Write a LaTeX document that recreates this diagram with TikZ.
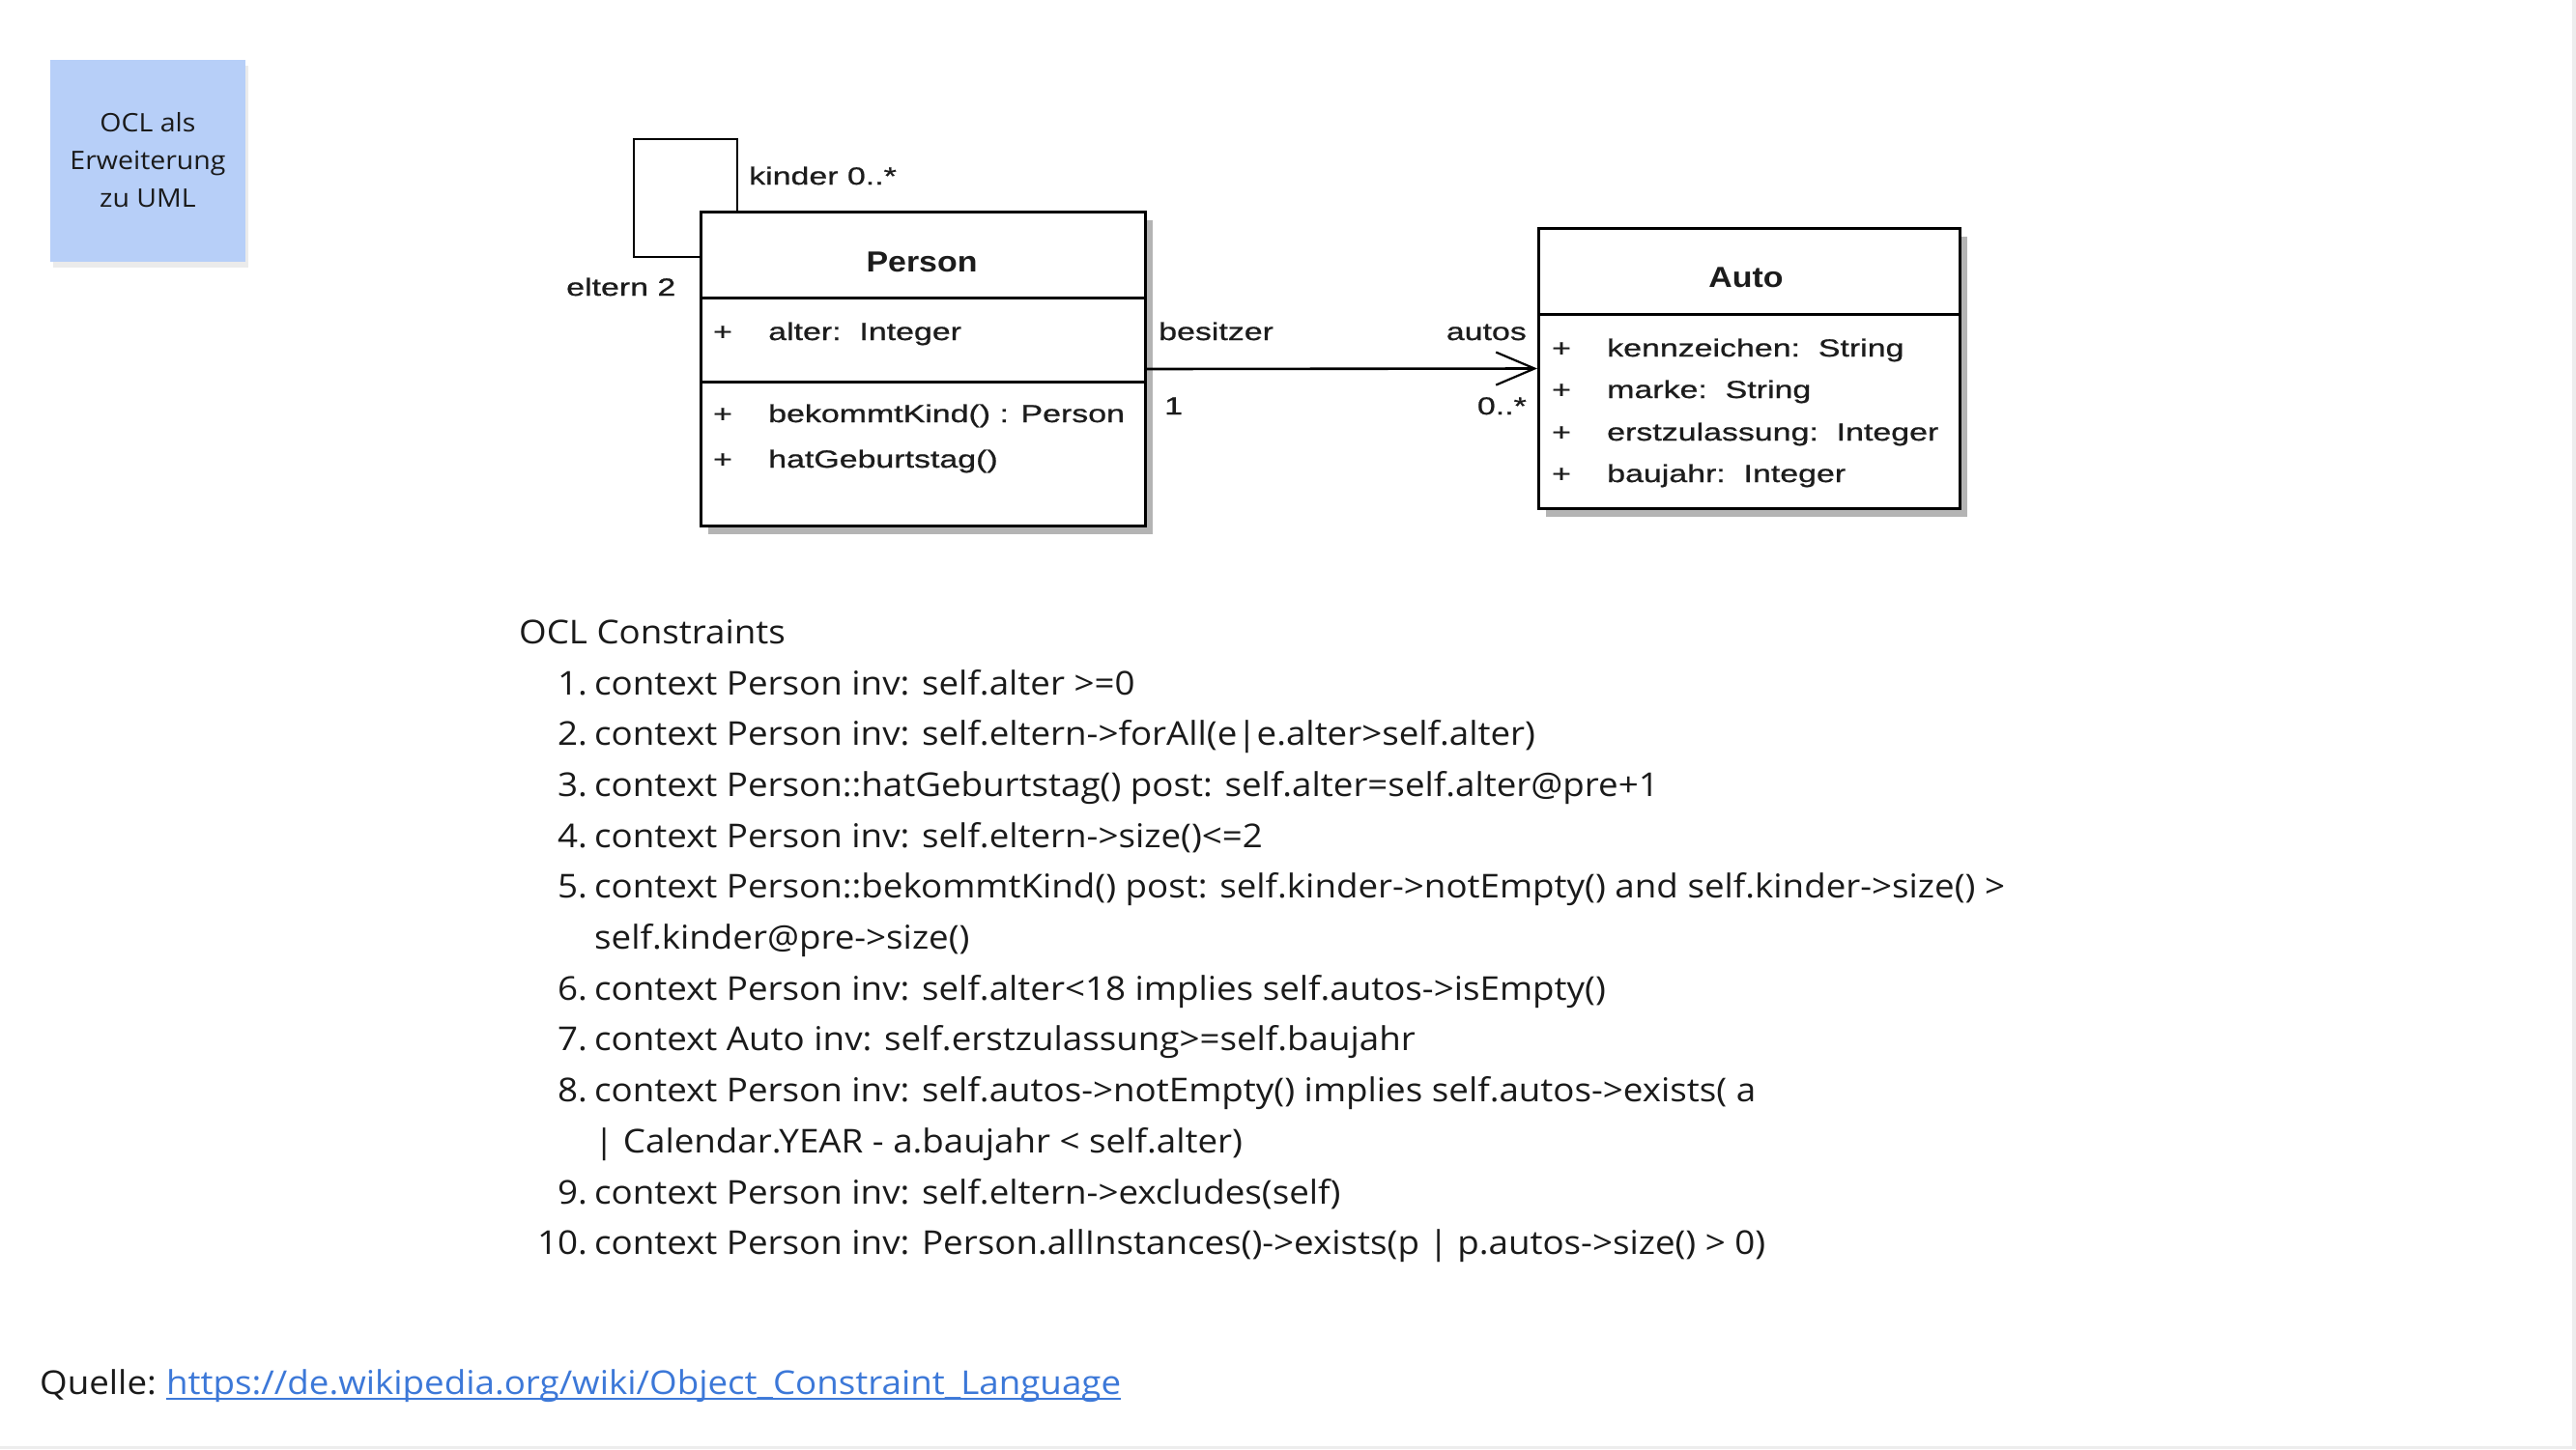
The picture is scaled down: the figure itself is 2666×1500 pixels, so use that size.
\documentclass[tikz,border=0pt]{standalone}
\usepackage{fontspec}
\setmainfont{Open Sans}[FakeStretch=1.08]
\newfontfamily\umlfont[FakeStretch=1.33,FakeBold=0.8]{Liberation Sans}
\newfontfamily\umltitlefont[FakeStretch=1.13]{Liberation Sans}
\usetikzlibrary{arrows.meta}
\definecolor{boxblue}{HTML}{B7CFF8}
\definecolor{linkblue}{HTML}{3C78D8}
\definecolor{shadowgray}{HTML}{B4B4B4}
\definecolor{txt}{HTML}{1A1A1A}
\definecolor{umltxt}{HTML}{1C1C1C}
\definecolor{edgegray}{HTML}{EDEDED}
\begin{document}
\begin{tikzpicture}[x=1pt,y=-1pt,
  umlbox/.style={draw=black, line width=3pt, fill=white, inner sep=0pt, anchor=north west},
  umlline/.style={draw=black, line width=3pt},
  assocline/.style={draw=black, line width=2.6pt},
  umlshadow/.style={fill=shadowgray, draw=none},
  uml/.style={font=\umlfont\fontsize{25.5}{30}\selectfont, text=umltxt, inner sep=0pt, anchor=base west},
  umlr/.style={uml, anchor=base east},
  umlc/.style={uml, anchor=base},
  umltitle/.style={font=\umltitlefont\bfseries\fontsize{30}{34}\selectfont, text=umltxt, inner sep=0pt, anchor=base},
  maintext/.style={font=\fontsize{34}{40}\selectfont, text=txt, inner sep=0pt, anchor=base west},
  numtext/.style={maintext, anchor=base east},
  stickynote/.style={fill=boxblue, draw=none, inner sep=0pt, align=center, text=txt,
     font=\fontsize{26.4}{39}\selectfont, minimum width=202pt, minimum height=209pt}
]
% canvas
\useasboundingbox (0,0) rectangle (2666,1500);
\fill[white] (0,0) rectangle (2666,1500);
\fill[edgegray] (2662,0) rectangle (2666,1500);
\fill[edgegray] (0,1497) rectangle (2666,1500);

% sticky note
\fill[black!8] (55,68) rectangle (257,277);
\node[stickynote] (note) at (153,166) {OCL als\\Erweiterung\\zu UML};

% shadows
\fill[umlshadow] (733,228) rectangle (1193,553);
\fill[umlshadow] (1600,245) rectangle (2036,535);

% Person class
\node[umlbox, minimum width=460pt, minimum height=325pt] (person) at (724,218) {};
\draw[umlline] (724,308) -- (1184,308);
\draw[umlline] (724,395) -- (1184,395);
\node[umltitle] (ptitle) at (954,281) {Person};
\node[umlc] (pplus1) at (748,352) {+};
\node[uml] (palter) at (795,352) {alter:\ \ Integer};
\node[umlc] (pplus2) at (748,437) {+};
\node[uml] (pkind) at (795,437) {bekommtKind() : Person};
\node[umlc] (pplus3) at (748,484) {+};
\node[uml] (pgeb) at (795,484) {hatGeburtstag()};

% Auto class
\node[umlbox, minimum width=436pt, minimum height=290pt] (auto) at (1591,235) {};
\draw[umlline] (1591,325) -- (2027,325);
\node[umltitle] (atitle) at (1807,297) {Auto};
\node[umlc] (aplus1) at (1616,369) {+};
\node[uml] (akenn) at (1663,369) {kennzeichen:\ \ String};
\node[umlc] (aplus2) at (1616,412) {+};
\node[uml] (amarke) at (1663,412) {marke:\ \ String};
\node[umlc] (aplus3) at (1616,456) {+};
\node[uml] (aerst) at (1663,456) {erstzulassung:\ \ Integer};
\node[umlc] (aplus4) at (1616,499) {+};
\node[uml] (abau) at (1663,499) {baujahr:\ \ Integer};

% self association (kinder / eltern)
\coordinate (kcorner) at (763,144);
\coordinate (ecorner) at (656,266);
\draw[assocline] (person.north -| kcorner) -- (kcorner) -- (kcorner -| ecorner) -- (ecorner) -- (ecorner -| person.west);
\node[uml] (kinder) at (775,191) {kinder 0..*};
\node[uml] (eltern) at (586,306) {eltern 2};

% association Person -> Auto
\draw[assocline, -{Straight Barb[length=40pt,width=34pt,line width=2.2pt]}] (person.east) -- (auto.west);
\node[uml] (besitzer) at (1199,352) {besitzer};
\node[uml] (one) at (1205,429) {1};
\node[umlr] (autos) at (1580,352) {autos};
\node[umlr] (many) at (1580,429) {0..*};

% OCL constraints
\node[maintext] (head) at (537,666) {OCL Constraints};
\node[numtext] (n1) at (608,719) {1.};
\node[maintext] (c1) at (615,719) {context Person inv: self.alter >=0};
\node[numtext] (n2) at (608,771.7) {2.};
\node[maintext] (c2) at (615,771.7) {context Person inv: self.eltern->forAll(e|e.alter>self.alter)};
\node[numtext] (n3) at (608,824.4) {3.};
\node[maintext] (c3) at (615,824.4) {context Person::hatGeburtstag() post: self.alter=self.alter@pre+1};
\node[numtext] (n4) at (608,877.1) {4.};
\node[maintext] (c4) at (615,877.1) {context Person inv: self.eltern->size()<=2};
\node[numtext] (n5) at (608,929.8) {5.};
\node[maintext] (c5) at (615,929.8) {context Person::bekommtKind() post: self.kinder->notEmpty() and self.kinder->size() >};
\node[maintext] (c5b) at (615,982.5) {self.kinder@pre->size()};
\node[numtext] (n6) at (608,1035.2) {6.};
\node[maintext] (c6) at (615,1035.2) {context Person inv: self.alter<18 implies self.autos->isEmpty()};
\node[numtext] (n7) at (608,1087.9) {7.};
\node[maintext] (c7) at (615,1087.9) {context Auto inv: self.erstzulassung>=self.baujahr};
\node[numtext] (n8) at (608,1140.6) {8.};
\node[maintext] (c8) at (615,1140.6) {context Person inv: self.autos->notEmpty() implies self.autos->exists( a};
\node[maintext] (c8b) at (615,1193.3) {| Calendar.YEAR - a.baujahr < self.alter)};
\node[numtext] (n9) at (608,1246) {9.};
\node[maintext] (c9) at (615,1246) {context Person inv: self.eltern->excludes(self)};
\node[numtext] (n10) at (608,1298.7) {10.};
\node[maintext] (c10) at (615,1298.7) {context Person inv: Person.allInstances()->exists(p | p.autos->size() > 0)};

% source
\node[maintext] (quelle) at (41,1443) {Quelle:};
\node[maintext, text=linkblue] (url) at (172,1443) {https://de.wikipedia.org/wiki/Object\_Constraint\_Language};
\draw[linkblue, line width=2.2pt] ([yshift=-5pt]url.base west) -- ([yshift=-5pt]url.base east);
\end{tikzpicture}
\end{document}
